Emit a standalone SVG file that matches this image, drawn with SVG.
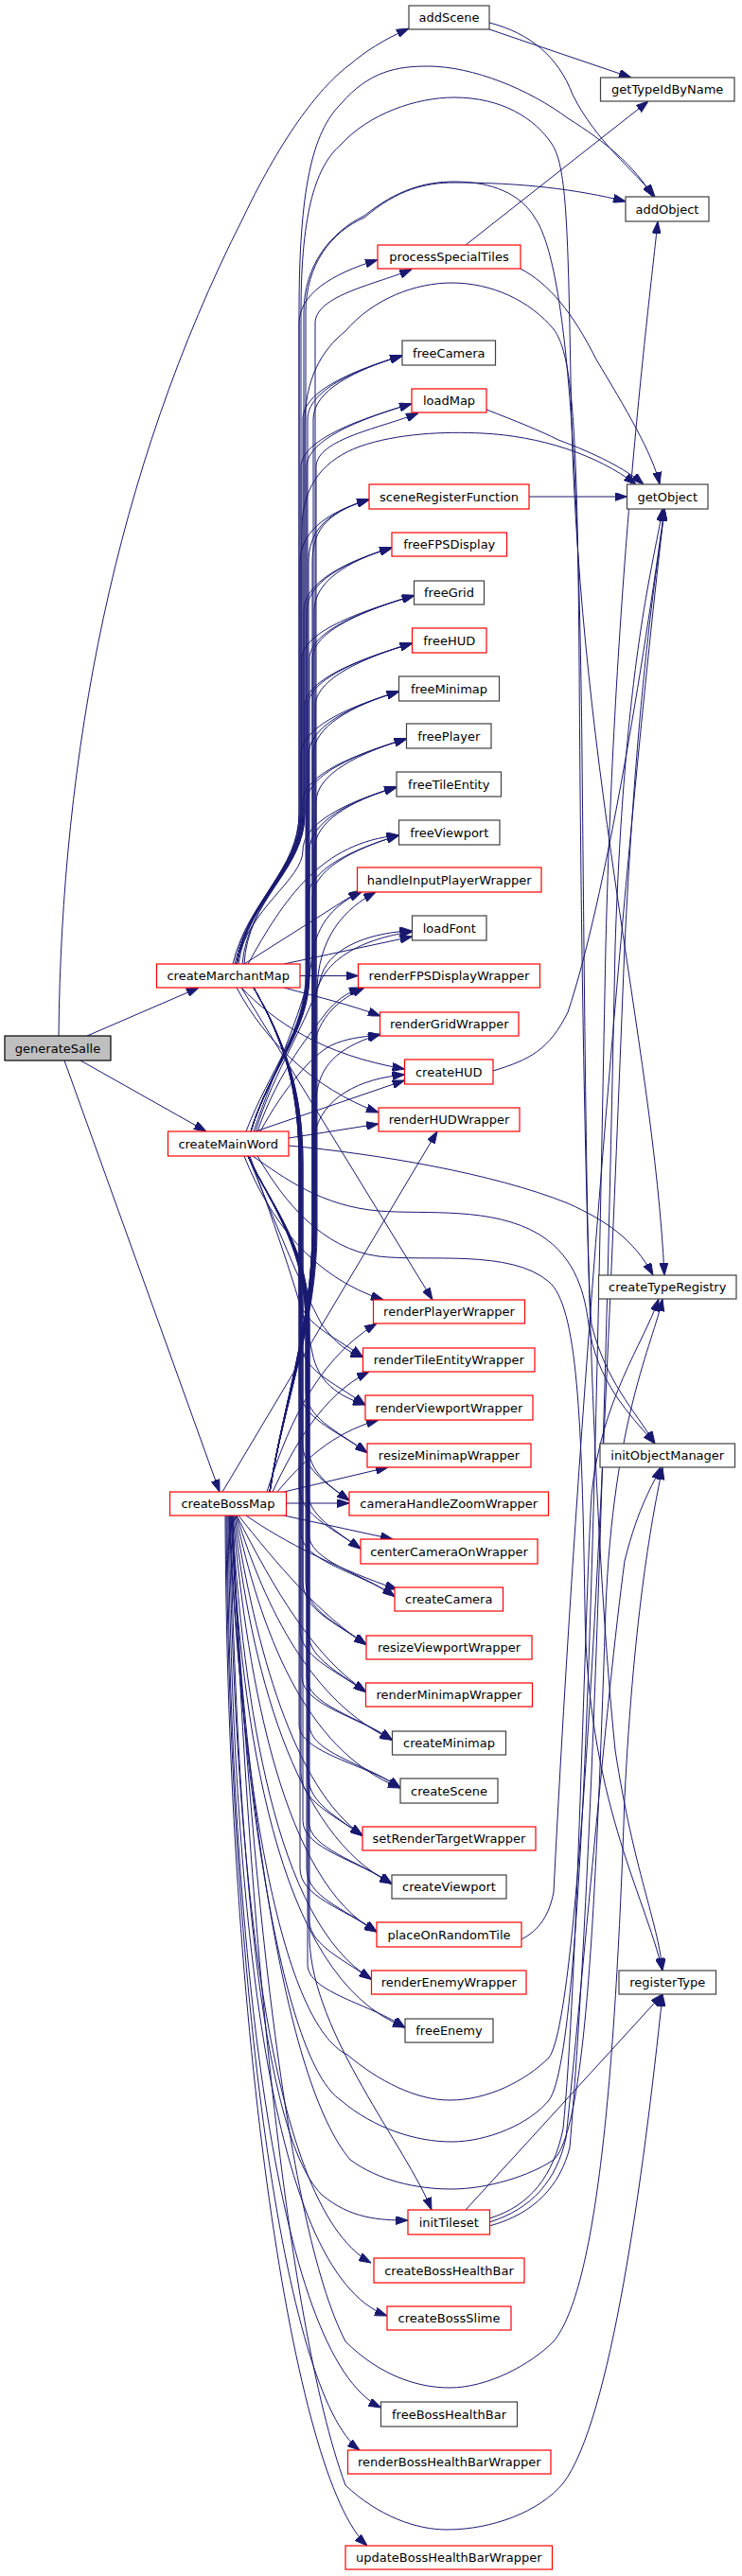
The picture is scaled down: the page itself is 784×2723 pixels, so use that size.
<svg xmlns="http://www.w3.org/2000/svg" width="784" height="2723" viewBox="0 0 784 2723">
<defs>
<style>
#edges path{fill:none;stroke:#191970;stroke-width:1;marker-end:url(#arr)}
.n rect{fill:#fff;stroke:#404040;stroke-width:1.2}
.r rect{fill:#fff;stroke:#ff0000;stroke-width:1.2}
.g rect{fill:#bfbfbf;stroke:#000;stroke-width:1.2}
text{font-family:"DejaVu Sans","Liberation Sans",sans-serif;font-size:13px;text-anchor:middle;fill:#000}
</style>
<marker id="arr" markerWidth="13" markerHeight="9" refX="13" refY="4.5" orient="auto" markerUnits="userSpaceOnUse"><path d="M0,0L13,4.5L0,9z" fill="#191970" stroke="#191970" stroke-width="1"/></marker>
</defs>
<rect width="784" height="2723" fill="#fff"/>
<g id="edges">
<!-- generateSalle -->
<path d="M62,1095 C65,800 120,500 257,230 C300,140 340,90 370,68 C385,55 405,42 432,30"/>
<path d="M92,1095 L210,1044"/>
<path d="M85,1121 L218,1196"/>
<path d="M68,1121 L232,1577"/>
<!-- addScene / helpers -->
<path d="M517,31 L667,82"/>
<path d="M517,24 C560,35 590,60 605,100 C630,150 670,180 692,208"/>
<path d="M492,259 L685,107"/>
<path d="M550,284 C580,300 605,330 630,380 C660,430 690,480 697,512"/>
<path d="M514,433 C545,445 570,455 590,465 C630,480 660,495 680,512"/>
<path d="M559,525 L662.5,525"/>
<path d="M521,1132 C560,1120 580,1110 600,1070 C640,950 680,700 702,538"/>
<path d="M551,2050 C570,2040 580,2025 585,2000 C610,1500 660,900 702,538"/>
<!-- initTileset -->
<path d="M492,2336 L700,2108"/>
<path d="M517,2345 C560,2332 585,2300 595,2250 C610,2100 618,1700 625,1580 C635,1480 680,1420 696,1373"/>
<path d="M517,2349 C562,2335 588,2305 598,2260 C615,2100 640,1800 660,1650 C675,1590 690,1570 698,1551"/>
<path d="M517,2353 C565,2340 592,2310 602,2270 C625,2000 640,1500 650,1000 C660,700 690,600 700,538"/>
<!-- createMarchantMap up -->
<path d="M250,1019 C262,950 316,920 316,860 L316,341.7 C316,311.7 349,289.7 399,274.7"/>
<path d="M250,1019 C262,950 320,920 320,860 L320,443 C320,413 375,391 425,376"/>
<path d="M250,1019 C262,950 318,920 318,860 L318,493.7 C318,463.7 385,441.7 435,426.7"/>
<path d="M250,1019 C262,950 317,920 317,860 L317,595 C317,565 340,543 390,528"/>
<path d="M250,1019 C262,950 321,920 321,860 L321,646 C321,616 364,594 414,579"/>
<path d="M250,1019 C262,950 319,920 319,860 L319,696.5 C319,666.5 387.5,644.5 437.5,629.5"/>
<path d="M250,1019 C262,950 322,920 322,860 L322,747 C322,717 385.5,695 435.5,680"/>
<path d="M250,1019 C262,950 318,920 318,860 L318,798 C318,768 371.5,746 421.5,731"/>
<path d="M250,1019 C262,950 320,920 320,860 L320,848 C320,818 379.5,796 429.5,781"/>
<path d="M250,1019 C262,960 320,930 320,899 C320,869 369,847 419,832"/>
<path d="M262,1019 C300,950 340,890 421.5,883"/>
<path d="M258,1019 L381,941"/>
<path d="M300,1019 L435.5,990"/>
<path d="M317,1031.5 L378.5,1031.5"/>
<path d="M300,1044 C340,1055 370,1062 402,1074"/>
<path d="M255,1044 C290,1080 340,1115 427.5,1130"/>
<path d="M250,1044 C280,1100 330,1150 400,1176"/>
<path d="M255,1044 L457,1374"/>
<!-- createMarchantMap down -->
<path d="M268,1044 C300,1100 316,1150 316,1230 L316,1367.5 C316,1397.5 348.5,1409.5 383.5,1434.5"/>
<path d="M268,1044 C300,1100 318,1150 318,1230 L318,1418 C318,1448 351,1460 386,1485"/>
<path d="M268,1044 C300,1100 317,1150 317,1230 L317,1468.5 C317,1498.5 353,1510.5 388,1535.5"/>
<path d="M268,1044 C300,1100 319,1150 319,1230 L319,1519 C319,1549 334,1561 369,1586"/>
<path d="M268,1044 C300,1100 316,1150 316,1230 L316,1570 C316,1600 346,1612 381,1637"/>
<path d="M268,1044 C300,1100 318,1150 318,1230 L318,1620.5 C318,1650.5 382,1662.5 417,1687.5"/>
<path d="M268,1044 C300,1100 320,1150 320,1230 L320,1671.5 C320,1701.5 352,1713.5 387,1738.5"/>
<path d="M268,1044 C300,1100 317,1150 317,1230 L317,1721.5 C317,1751.5 351.5,1763.5 386.5,1788.5"/>
<path d="M268,1044 C300,1100 319,1150 319,1230 L319,1772.5 C319,1802.5 379.5,1814.5 414.5,1839.5"/>
<path d="M268,1044 C300,1100 316,1150 316,1230 L316,1823 C316,1853 388,1865 423,1890"/>
<path d="M268,1044 C300,1100 318,1150 318,1230 L318,1873.5 C318,1903.5 348,1915.5 383,1940.5"/>
<path d="M268,1044 C300,1100 320,1150 320,1230 L320,1924.5 C320,1954.5 379,1966.5 414,1991.5"/>
<path d="M268,1044 C300,1100 317,1150 317,1230 L317,1975 C317,2005 363,2017 398,2042"/>
<!-- createMarchantMap to right column -->
<path d="M248,1019 C262,950 316,920 316,860 L316,330 C316,200 330,140 360,110 C390,75 420,70 452,70 C500,70 560,95 600,125 C640,150 670,175 690,208"/>
<path d="M246,1019 C262,950 318,920 318,860 L318,330 C318,220 335,175 360,153 C390,120 440,103 480,103 C530,103 565,125 583,152 C598,175 600,230 603,400 C608,800 690,1100 702,1348"/>
<path d="M252,1019 C262,950 321,920 321,860 L321,330 C321,280 350,245 385,228 C420,200 450,192 480,192 C520,192 550,205 565,230 C600,280 612,500 615,800 C618,1100 620,1350 625,1400 C640,1460 670,1490 692,1526"/>
<path d="M256,1019 C262,950 322,920 322,860 L322,450 C322,400 340,370 365,350 C395,315 440,299 477,299 C520,299 560,318 585,348 C605,375 610,450 612,700 C615,1200 625,1600 650,1850 C670,1980 695,2030 700,2083"/>
<path d="M258,1019 C262,950 319,920 319,860 L319,560 C319,510 345,485 380,472 C420,458 470,456 510,458 C570,461 630,480 672,512"/>
<!-- createMainWord up -->
<path d="M265,1196 C285,1130 325,1090 325,1030 L325,443 C325,413 375,391 425,376"/>
<path d="M265,1196 C285,1130 324,1090 324,1030 L324,493.7 C324,463.7 385,441.7 435,426.7"/>
<path d="M265,1196 C285,1130 326,1090 326,1030 L326,595 C326,565 340,543 390,528"/>
<path d="M265,1196 C285,1130 324,1090 324,1030 L324,646 C324,616 364,594 414,579"/>
<path d="M265,1196 C285,1130 327,1090 327,1030 L327,696.5 C327,666.5 387.5,644.5 437.5,629.5"/>
<path d="M265,1196 C285,1130 325,1090 325,1030 L325,747 C325,717 385.5,695 435.5,680"/>
<path d="M265,1196 C285,1130 326,1090 326,1030 L326,798 C326,768 371.5,746 421.5,731"/>
<path d="M265,1196 C285,1130 324,1090 324,1030 L324,848 C324,818 379.5,796 429.5,781"/>
<path d="M265,1196 C285,1130 327,1090 327,1030 L327,899 C327,869 369,847 419,832"/>
<path d="M265,1196 C285,1130 325,1090 325,1030 L325,950 C325,920 371.5,898 421.5,883"/>
<path d="M268,1196 C290,1130 325,1060 330,1010 C335,975 355,955 382,943"/>
<path d="M270,1196 C290,1130 326,1080 340,1030 C350,1000 395,985 435.5,984"/>
<path d="M272,1196 C295,1130 330,1090 345,1070 C355,1058 365,1050 382,1044"/>
<path d="M275,1196 C300,1150 330,1115 350,1105 C365,1098 380,1096 402,1094"/>
<path d="M270,1196 L427.5,1142"/>
<path d="M305,1203 L400,1188"/>
<!-- createMainWord down -->
<path d="M258,1222 C285,1290 330,1350 405,1374"/>
<path d="M262,1222 C290,1290 318,1360 340,1400 C355,1420 365,1428 383.5,1434.5"/>
<path d="M264,1222 C292,1300 320,1380 330,1430 C336,1460 355,1475 386,1485"/>
<path d="M262,1222 C290,1280 323,1320 323,1400 L323,1468.5 C323,1498.5 353,1510.5 388,1535.5"/>
<path d="M262,1222 C290,1280 325,1320 325,1400 L325,1519 C325,1549 334,1561 369,1586"/>
<path d="M262,1222 C290,1280 324,1320 324,1400 L324,1570 C324,1600 346,1612 381,1637"/>
<path d="M262,1222 C290,1280 326,1320 326,1400 L326,1620.5 C326,1650.5 382,1662.5 417,1687.5"/>
<path d="M262,1222 C290,1280 323,1320 323,1400 L323,1671.5 C323,1701.5 352,1713.5 387,1738.5"/>
<path d="M262,1222 C290,1280 325,1320 325,1400 L325,1721.5 C325,1751.5 351.5,1763.5 386.5,1788.5"/>
<path d="M262,1222 C290,1280 324,1320 324,1400 L324,1772.5 C324,1802.5 379.5,1814.5 414.5,1839.5"/>
<path d="M262,1222 C290,1280 327,1320 327,1400 L327,1823 C327,1853 388,1865 423,1890"/>
<path d="M262,1222 C290,1280 325,1320 325,1400 L325,1873.5 C325,1903.5 348,1915.5 383,1940.5"/>
<path d="M262,1222 C290,1280 326,1320 326,1400 L326,1924.5 C326,1954.5 379,1966.5 414,1991.5"/>
<path d="M262,1222 C290,1280 324,1320 324,1400 L324,1975 C324,2005 363,2017 398,2042"/>
<path d="M262,1222 C290,1280 326,1320 326,1400 L326,2025.5 C326,2055.5 357.5,2067.5 392.5,2092.5"/>
<path d="M262,1222 C290,1280 325,1320 325,1400 L325,2076.5 C325,2106.5 393,2118.5 428,2143.5"/>
<path d="M262,1222 C290,1280 327,1320 327,1400 L327,2050 C330,2150 430,2270 456,2336"/>
<!-- createMainWord to right column -->
<path d="M260,1196 C285,1130 323,1090 323,1030 L323,330 C323,280 350,245 385,230 C420,200 450,193 480,193 C550,193 610,200 661,213"/>
<path d="M305,1211 C400,1220 520,1240 600,1272 C640,1290 670,1310 690,1348"/>
<path d="M267,1222 C300,1245 340,1275 400,1280 C450,1284 520,1275 570,1305 C610,1330 618,1370 622,1400 C630,1460 665,1495 692,1526"/>
<path d="M272,1222 C300,1270 340,1320 400,1328 C450,1334 540,1320 580,1355 C610,1380 615,1500 618,1700 C620,1900 680,2000 700,2083"/>
<!-- createBossMap up -->
<path d="M285,1577 C300,1480 333,1400 333,1300 L333,341.7 C333,311.7 400,300 435,284.5"/>
<path d="M285,1577 C300,1480 331,1400 331,1300 L331,443 C331,413 375,391 425,376"/>
<path d="M285,1577 C300,1480 334,1400 334,1300 L334,493.7 C334,463.7 405,452 442,436.5"/>
<path d="M285,1577 C300,1480 330,1400 330,1300 L330,595 C330,565 340,543 390,528"/>
<path d="M285,1577 C300,1480 332,1400 332,1300 L332,646 C332,616 364,594 414,579"/>
<path d="M285,1577 C300,1480 330,1400 330,1300 L330,696.5 C330,666.5 387.5,644.5 437.5,629.5"/>
<path d="M285,1577 C300,1480 333,1400 333,1300 L333,747 C333,717 385.5,695 435.5,680"/>
<path d="M285,1577 C300,1480 331,1400 331,1300 L331,798 C331,768 371.5,746 421.5,731"/>
<path d="M285,1577 C300,1480 334,1400 334,1300 L334,848 C334,818 379.5,796 429.5,781"/>
<path d="M285,1577 C300,1480 332,1400 332,1300 L332,899 C332,869 369,847 419,832"/>
<path d="M285,1577 C300,1480 330,1400 330,1300 L330,950 C330,920 371.5,898 421.5,883"/>
<path d="M285,1577 C300,1480 335,1400 335,1300 L335,1050 C335,990 365,960 397,943"/>
<path d="M285,1577 C300,1480 333,1400 333,1300 L333,1060 C335,1010 395,990 435.5,985"/>
<path d="M285,1577 C300,1480 331,1400 331,1300 L331,1110 C335,1075 360,1055 385,1044"/>
<path d="M285,1577 C300,1480 334,1400 334,1300 L334,1160 C338,1120 365,1105 402,1093"/>
<path d="M285,1577 C300,1480 332,1400 332,1300 L332,1200 C340,1160 380,1140 427.5,1136"/>
<path d="M235,1577 L462,1196"/>
<path d="M282,1577 C300,1520 330,1440 398,1399"/>
<path d="M288,1577 C310,1530 340,1475 390,1450"/>
<path d="M293,1577 C320,1545 350,1515 400,1501"/>
<path d="M300,1577 L410,1551"/>
<path d="M302.5,1589 L369,1589"/>
<!-- createBossMap down -->
<path d="M300,1602 L415,1627"/>
<path d="M260,1602 C300,1630 360,1660 420,1680"/>
<path d="M252,1602 C290,1650 340,1710 387,1738"/>
<path d="M250,1602 C290,1680 330,1750 386.5,1788"/>
<path d="M250,1602 C280,1700 330,1800 414.5,1839"/>
<path d="M249,1602 C275,1720 320,1850 423,1890"/>
<path d="M248,1602 C270,1740 310,1890 383,1940"/>
<path d="M247,1602 C265,1760 310,1940 414,1991"/>
<path d="M246,1602 C262,1780 300,1990 398,2042"/>
<path d="M245,1602 C258,1800 290,2030 392.5,2092"/>
<path d="M244,1602 C255,1820 290,2090 428,2143"/>
<path d="M243,1602 C250,1900 270,2250 340,2320 C370,2345 400,2347 431,2347"/>
<path d="M242,1602 C248,1950 280,2330 392,2392"/>
<path d="M241,1602 C246,2000 280,2400 409,2448"/>
<path d="M240,1602 C243,2050 290,2490 402.5,2545"/>
<path d="M239,1602 C242,2100 300,2530 380,2590"/>
<path d="M238,1602 C240,2150 310,2620 388,2691"/>
<!-- createBossMap to right column -->
<path d="M242,1602 C255,1900 300,2140 367,2172 C400,2200 440,2220 475,2220 C515,2220 555,2200 580,2175 C615,2130 640,1500 660,1000 C675,700 695,600 702,538"/>
<path d="M243,1602 C255,1900 300,2180 360,2220 C395,2250 440,2264 477,2264 C515,2264 560,2245 580,2220 C620,2170 630,1500 640,1000 C650,600 685,330 695,234"/>
<path d="M244,1602 C258,1900 300,2200 370,2283 C400,2305 440,2314 477,2314 C515,2314 560,2300 585,2283 C620,2250 630,2000 640,1700 C648,1500 690,1420 700,1373"/>
<path d="M245,1602 C262,1950 300,2350 365,2475 C400,2510 440,2524 475,2524 C515,2524 560,2500 585,2475 C630,2420 650,2200 660,1900 C670,1700 690,1600 700,1551"/>
<path d="M246,1602 C260,2000 300,2450 365,2627 C400,2660 440,2674 472,2674 C520,2674 570,2655 595,2625 C645,2560 680,2300 700,2108"/>
</g>
<g id="n_addScene" class="n"><rect x="432" y="6" width="85" height="25"/><text x="474.5" y="23">addScene</text></g>
<g id="n_getTypeIdByName" class="n"><rect x="634.5" y="82" width="141.5" height="25"/><text x="705.25" y="99">getTypeIdByName</text></g>
<g id="n_addObject" class="n"><rect x="661" y="208" width="88" height="26"/><text x="705" y="225.5">addObject</text></g>
<g id="n_processSpecialTiles" class="r"><rect x="399" y="259" width="151" height="25"/><text x="474.5" y="276">processSpecialTiles</text></g>
<g id="n_freeCamera" class="n"><rect x="425" y="360" width="98.5" height="26"/><text x="474.25" y="377.5">freeCamera</text></g>
<g id="n_loadMap" class="r"><rect x="435" y="411" width="79" height="25"/><text x="474.5" y="428">loadMap</text></g>
<g id="n_sceneRegisterFunction" class="r"><rect x="390" y="512" width="169" height="26"/><text x="474.5" y="529.5">sceneRegisterFunction</text></g>
<g id="n_getObject" class="n"><rect x="662.5" y="512" width="85.5" height="26"/><text x="705.25" y="529.5">getObject</text></g>
<g id="n_freeFPSDisplay" class="r"><rect x="414" y="563" width="121.5" height="25"/><text x="474.75" y="580">freeFPSDisplay</text></g>
<g id="n_freeGrid" class="n"><rect x="437.5" y="614" width="74" height="25"/><text x="474.5" y="631">freeGrid</text></g>
<g id="n_freeHUD" class="r"><rect x="435.5" y="664" width="78.5" height="26"/><text x="474.75" y="681.5">freeHUD</text></g>
<g id="n_freeMinimap" class="n"><rect x="421.5" y="715" width="106" height="26"/><text x="474.5" y="732.5">freeMinimap</text></g>
<g id="n_freePlayer" class="n"><rect x="429.5" y="765" width="89.5" height="26"/><text x="474.25" y="782.5">freePlayer</text></g>
<g id="n_freeTileEntity" class="n"><rect x="419" y="816" width="110.5" height="26"/><text x="474.25" y="833.5">freeTileEntity</text></g>
<g id="n_freeViewport" class="n"><rect x="421.5" y="867" width="106.5" height="26"/><text x="474.75" y="884.5">freeViewport</text></g>
<g id="n_handleInputPlayerWrapper" class="r"><rect x="377.5" y="917" width="194.5" height="26"/><text x="474.75" y="934.5">handleInputPlayerWrapper</text></g>
<g id="n_loadFont" class="n"><rect x="435.5" y="968" width="78.5" height="26"/><text x="474.75" y="985.5">loadFont</text></g>
<g id="n_createMarchantMap" class="r"><rect x="165.5" y="1019" width="151.5" height="25"/><text x="241.25" y="1036">createMarchantMap</text></g>
<g id="n_renderFPSDisplayWrapper" class="r"><rect x="378.5" y="1019" width="192" height="25"/><text x="474.5" y="1036">renderFPSDisplayWrapper</text></g>
<g id="n_renderGridWrapper" class="r"><rect x="401.5" y="1070" width="146.5" height="25"/><text x="474.75" y="1087">renderGridWrapper</text></g>
<g id="n_generateSalle" class="g"><rect x="5" y="1095" width="112" height="26"/><text x="61" y="1112.5">generateSalle</text></g>
<g id="n_createHUD" class="r"><rect x="427.5" y="1120" width="93.5" height="26"/><text x="474.25" y="1137.5">createHUD</text></g>
<g id="n_renderHUDWrapper" class="r"><rect x="400" y="1171" width="149" height="25"/><text x="474.5" y="1188">renderHUDWrapper</text></g>
<g id="n_createMainWord" class="r"><rect x="177.5" y="1196" width="127.5" height="26"/><text x="241.25" y="1213.5">createMainWord</text></g>
<g id="n_createTypeRegistry" class="n"><rect x="632.5" y="1348" width="145.5" height="25"/><text x="705.25" y="1365">createTypeRegistry</text></g>
<g id="n_renderPlayerWrapper" class="r"><rect x="394.5" y="1374" width="160" height="25"/><text x="474.5" y="1391">renderPlayerWrapper</text></g>
<g id="n_renderTileEntityWrapper" class="r"><rect x="383.5" y="1425" width="181.5" height="25"/><text x="474.25" y="1442">renderTileEntityWrapper</text></g>
<g id="n_renderViewportWrapper" class="r"><rect x="386" y="1475" width="177" height="26"/><text x="474.5" y="1492.5">renderViewportWrapper</text></g>
<g id="n_resizeMinimapWrapper" class="r"><rect x="388" y="1526" width="173" height="25"/><text x="474.5" y="1543">resizeMinimapWrapper</text></g>
<g id="n_initObjectManager" class="n"><rect x="634" y="1526" width="142.5" height="25"/><text x="705.25" y="1543">initObjectManager</text></g>
<g id="n_createBossMap" class="r"><rect x="179.5" y="1577" width="123" height="25"/><text x="241" y="1594">createBossMap</text></g>
<g id="n_cameraHandleZoomWrapper" class="r"><rect x="369" y="1577" width="210.5" height="25"/><text x="474.25" y="1594">cameraHandleZoomWrapper</text></g>
<g id="n_centerCameraOnWrapper" class="r"><rect x="381" y="1627" width="187" height="26"/><text x="474.5" y="1644.5">centerCameraOnWrapper</text></g>
<g id="n_createCamera" class="r"><rect x="417" y="1678" width="114.5" height="25"/><text x="474.25" y="1695">createCamera</text></g>
<g id="n_resizeViewportWrapper" class="r"><rect x="387" y="1729" width="175" height="25"/><text x="474.5" y="1746">resizeViewportWrapper</text></g>
<g id="n_renderMinimapWrapper" class="r"><rect x="386.5" y="1779" width="176" height="25"/><text x="474.5" y="1796">renderMinimapWrapper</text></g>
<g id="n_createMinimap" class="n"><rect x="414.5" y="1830" width="120" height="25"/><text x="474.5" y="1847">createMinimap</text></g>
<g id="n_createScene" class="n"><rect x="423" y="1880" width="103" height="26"/><text x="474.5" y="1897.5">createScene</text></g>
<g id="n_setRenderTargetWrapper" class="r"><rect x="383" y="1931" width="183" height="25"/><text x="474.5" y="1948">setRenderTargetWrapper</text></g>
<g id="n_createViewport" class="n"><rect x="414" y="1982" width="121" height="25"/><text x="474.5" y="1999">createViewport</text></g>
<g id="n_placeOnRandomTile" class="r"><rect x="398" y="2032" width="153" height="26"/><text x="474.5" y="2049.5">placeOnRandomTile</text></g>
<g id="n_renderEnemyWrapper" class="r"><rect x="392.5" y="2083" width="163.5" height="25"/><text x="474.25" y="2100">renderEnemyWrapper</text></g>
<g id="n_registerType" class="n"><rect x="654" y="2083" width="102.5" height="25"/><text x="705.25" y="2100">registerType</text></g>
<g id="n_freeEnemy" class="n"><rect x="428" y="2134" width="93" height="25"/><text x="474.5" y="2151">freeEnemy</text></g>
<g id="n_initTileset" class="r"><rect x="431" y="2336" width="86.5" height="26"/><text x="474.25" y="2353.5">initTileset</text></g>
<g id="n_createBossHealthBar" class="r"><rect x="395" y="2387" width="159" height="26"/><text x="474.5" y="2404.5">createBossHealthBar</text></g>
<g id="n_createBossSlime" class="r"><rect x="409" y="2438" width="131" height="25"/><text x="474.5" y="2455">createBossSlime</text></g>
<g id="n_freeBossHealthBar" class="n"><rect x="402.5" y="2539" width="144" height="26"/><text x="474.5" y="2556.5">freeBossHealthBar</text></g>
<g id="n_renderBossHealthBarWrapper" class="r"><rect x="367.5" y="2590" width="214.5" height="25"/><text x="474.75" y="2607">renderBossHealthBarWrapper</text></g>
<g id="n_updateBossHealthBarWrapper" class="r"><rect x="365" y="2691" width="218.5" height="25"/><text x="474.25" y="2708">updateBossHealthBarWrapper</text></g>
</svg>
